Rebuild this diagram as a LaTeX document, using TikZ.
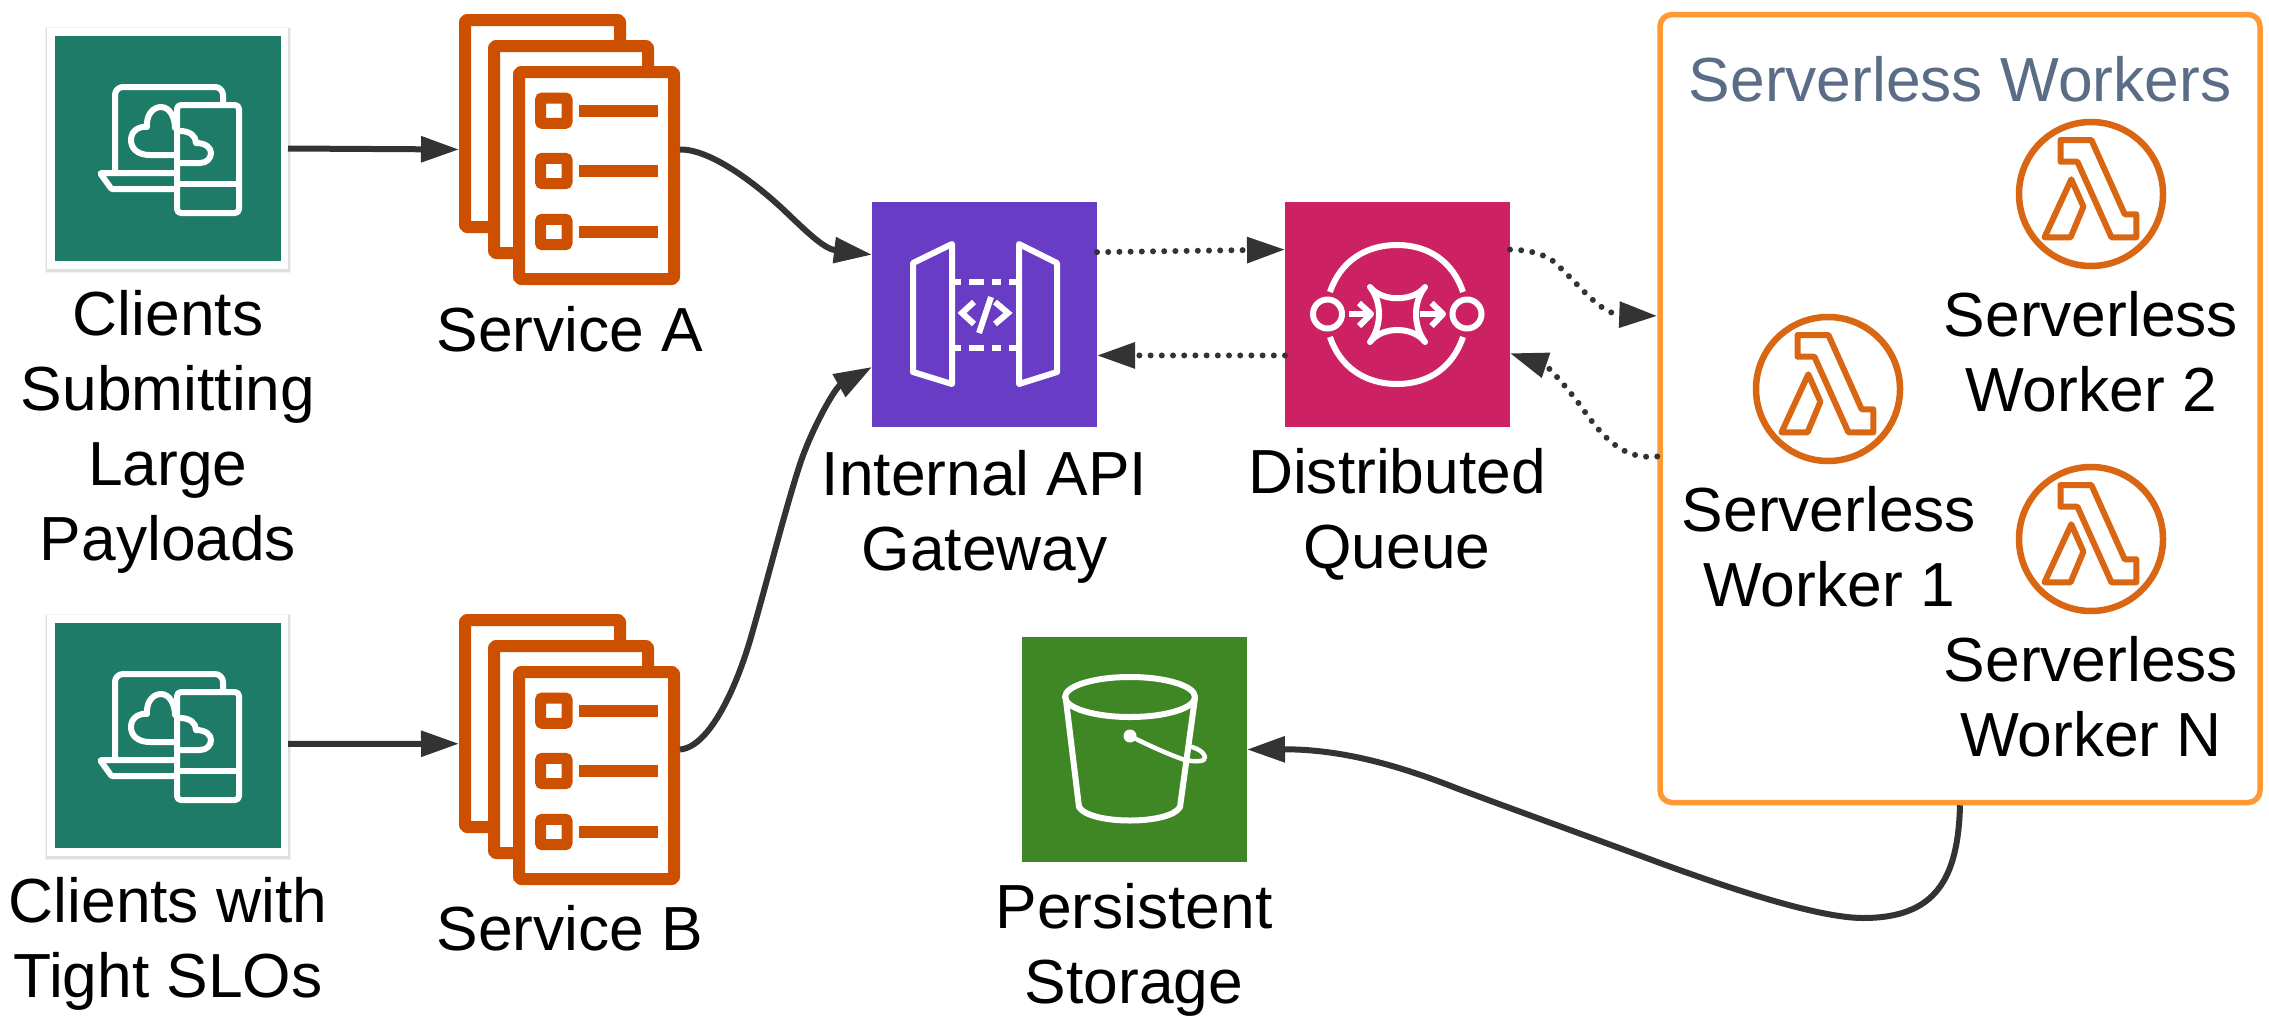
\documentclass[tikz,border=0pt]{standalone}
\usepackage{fontspec}
\setmainfont{Liberation Sans}
\usetikzlibrary{arrows.meta}
\definecolor{teal1}{HTML}{1D7B67}
\definecolor{stackor}{HTML}{CC5000}
\definecolor{lamor}{HTML}{D86613}
\definecolor{gwpurple}{HTML}{693CC5}
\definecolor{qpink}{HTML}{CC2264}
\definecolor{s3green}{HTML}{3F8624}
\definecolor{boxor}{HTML}{FF9933}
\definecolor{titleblue}{HTML}{5A6C86}
\definecolor{conn}{HTML}{333333}
\tikzset{
  x=1pt,y=-1pt,
  tile/.style={draw=none,inner sep=0pt,outer sep=0pt,minimum width=225pt,minimum height=225pt},
  phantombox/.style={draw=none,inner sep=0pt,outer sep=0pt},
  lbl/.style={inner sep=0pt,outer sep=0pt,align=center,anchor=base,font=\fontsize{62.3pt}{75pt}\selectfont},
  icon/.style={draw=white,line width=6pt,line join=round,line cap=round},
  stk/.style={draw=stackor,line width=12pt,rounded corners=2pt,fill=white,line join=round},
  lam/.style={draw=lamor,line width=6pt,line join=round},
  link/.style={draw=conn,line width=6pt,-{Triangle[length=38pt,width=25pt]}},
  dots/.style={link,line cap=round,dash pattern=on 0pt off 11.2pt},
}
\newcommand\clienticon[1]{%
\begin{scope}[shift={(0,#1)}]
  \fill[black,opacity=.05] (44.5,26.5) rectangle (290.5,273);
  \fill[black,opacity=.08] (45.5,27.5) rectangle (289.5,271.5);
  \fill[white] (47,28) rectangle (288,269);
  \fill[teal1] (55,36) rectangle (280.5,261);
  \draw[icon,rounded corners=8pt] (115,172)--(115,87)--(223,87)--(223,103);
  \draw[icon,rounded corners=1pt] (174.5,173)--(100,173)--(111.5,189)--(174.5,189);
  \draw[icon,rounded corners=4pt] (177,105) rectangle (239,213);
  \draw[icon] (177,184)--(239,184);
  \draw[icon] (175,155)--(150,155) .. controls (137,155) and (131,148) .. (131,140) .. controls (131,130) and (140,126) .. (147,127) .. controls (146,115) and (153,107) .. (161,107) .. controls (170,107) and (175,118) .. (175,128);
  \draw[icon] (180,131) .. controls (190,131) and (196,136) .. (196,143) .. controls (206,143) and (211,148) .. (211,153) .. controls (211,158) and (207,163) .. (200,163) -- (180,163);
\end{scope}}
\newcommand\stackicon[1]{%
\begin{scope}[shift={(0,#1)}]
  \draw[stk] (465,20) rectangle (620,227);
  \draw[stk] (494,46) rectangle (648,253);
  \draw[stk] (519,72) rectangle (674,279);
  \foreach \yy in {110.7,171,232}{
    \draw[draw=stackor,line width=11pt,rounded corners=2pt] (540.5,\yy-12.7) rectangle (567,\yy+12.7);
    \draw[draw=stackor,line width=11.7pt] (579,\yy)--(657.5,\yy);
  }
\end{scope}}
\newcommand\lambdaglyph[2]{%
\begin{scope}[shift={(#1,#2)}]
  \draw[lam,line width=6.5pt] (0,0) circle[radius=72pt];
  \draw[lam] (-30.5,-54)--(0.4,-54)--(33.7,20.3)--(45.3,20.3)--(45.3,43.3)--(20.4,43.3)--(-13.6,-32.3)--(-30.5,-32.3)--cycle;
  \draw[lam] (-19.7,-14.7)--(-7.6,12.7)--(-20.4,43.3)--(-46.5,43.3)--cycle;
\end{scope}}
\begin{document}
\begin{tikzpicture}
\useasboundingbox (0,0) rectangle (2269,1026);
% clients
\clienticon{0}
\clienticon{587}
\node[phantombox,minimum width=241pt,minimum height=241pt] (client1) at (167.5,148.5) {};
\node[phantombox,minimum width=241pt,minimum height=241pt] (client2) at (167.5,735.5) {};
% services
\stackicon{0}
\stackicon{600}
\node[phantombox,minimum width=221pt,minimum height=271pt] (svcA) at (569.5,149.5) {};
\node[phantombox,minimum width=221pt,minimum height=271pt] (svcB) at (569.5,749.5) {};
% gateway
\node[tile,fill=gwpurple] (gw) at (984.5,314.5) {};
\begin{scope}[icon]
  \draw (913,263)--(952,244)--(952,384)--(913,372)--cycle;
  \draw (1019,244)--(1057,263)--(1057,372)--(1019,384)--cycle;
  \draw[line cap=butt,line width=6pt,dash pattern=on 9pt off 8pt on 15pt off 8pt on 9pt off 8pt on 10pt] (952,282)--(1019,282);
  \draw[line cap=butt,line width=6pt,dash pattern=on 9pt off 8pt on 15pt off 8pt on 9pt off 8pt on 10pt] (952,348)--(1019,348);
  \draw[line join=miter,line cap=butt] (974,302)--(962,313)--(974,324);
  \draw[line join=miter,line cap=butt] (995,302)--(1008,313)--(995,324);
  \draw[line cap=butt] (991,297)--(979,333);
\end{scope}
% queue
\node[tile,fill=qpink] (queue) at (1397.5,314.5) {};
\begin{scope}[icon,line cap=butt]
  \draw (1330,292) .. controls (1340,262) and (1365,245) .. (1397,245) .. controls (1429,245) and (1453,262) .. (1463,292);
  \draw (1330,337) .. controls (1340,367) and (1365,384) .. (1397,384) .. controls (1429,384) and (1453,367) .. (1463,337);
  \draw (1327.5,314) circle[radius=14.5pt];
  \draw (1467,314) circle[radius=14.5pt];
  \draw (1349,314)--(1369,314);
  \draw (1359,303)--(1371,314)--(1359,326);
  \draw (1420,314)--(1441,314);
  \draw (1431.5,303)--(1443,314)--(1431.5,326);
  \draw[line cap=round] (1370,287) .. controls (1382,302) and (1413,302) .. (1425,287) .. controls (1413,302) and (1413,326) .. (1425,342) .. controls (1413,326) and (1382,326) .. (1370,342) .. controls (1382,326) and (1382,302) .. (1370,287) -- cycle;
\end{scope}
% storage
\node[tile,fill=s3green] (store) at (1134.5,749.5) {};
\begin{scope}[icon]
  \draw (1130,697) ellipse[x radius=65pt,y radius=20pt];
  \draw (1065.7,698)--(1079,807) .. controls (1090,825) and (1170,825) .. (1180,807)--(1195,698);
  \fill[white] (1130,736) circle[radius=6.5pt];
  \draw[line width=4.5pt] (1130,736) .. controls (1150,746) and (1170,755) .. (1185,760) .. controls (1195,762) and (1206,762) .. (1205,757) .. controls (1204,752) and (1198,749) .. (1192,747);
\end{scope}
% workers box
\node[draw=boxor,fill=white,line width=5.5pt,rounded corners=12pt,inner sep=0pt,minimum width=600pt,minimum height=788pt] (box) at (1960,408.5) {};
\lambdaglyph{2091}{194}
\lambdaglyph{1828}{389}
\lambdaglyph{2091}{539}
% labels
\node[lbl,text=titleblue] (ttl) at (1960,101.7) {Serverless Workers};
\node[lbl] (lc1) at (168,560) {Clients\\Submitting\\Large\\Payloads};
\node[lbl] (lc2) at (168,997) {Clients with\\Tight SLOs};
\node[lbl] (lsa) at (570,351) {Service A};
\node[lbl] (lsb) at (570,950) {Service B};
\node[lbl] (lgw) at (984.5,570) {Internal API\\Gateway};
\node[lbl] (lq) at (1397,568) {Distributed\\Queue};
\node[lbl] (ls) at (1134,1003) {Persistent\\Storage};
\node[lbl] (lw2) at (2091,411) {Serverless\\Worker 2};
\node[lbl] (lw1) at (1829,606) {Serverless\\Worker 1};
\node[lbl] (lwn) at (2091,756) {Serverless\\Worker N};
% connectors
\draw[link] (client1.east) -- (svcA.west);
\draw[link] (client2.-4) -- (svcB.177.15);
\draw[link] (svcA.east) .. controls (712,149) and (760,187) .. (787,213) .. controls (810,235) and (825,249) .. (gw.152);
\draw[link] (svcB.east) .. controls (710,747) and (738,685) .. (753,630) .. controls (768,578) and (785,510) .. (800,464) .. controls (812,428) and (835,388) .. (gw.205.4);
\draw[dots] (gw.29.05) -- (queue.150.95);
\draw[dots] (queue.200.25) -- (gw.-20.25);
\draw[dots] (queue.30.2) .. controls (1525,250) and (1540,252) .. (1553,261) .. controls (1580,285) and (1600,314) .. (box.163.9);
\draw[dots] (box.189.8) .. controls (1625,460) and (1605,440) .. (1585,412) .. controls (1572,393) and (1548,366) .. (queue.-19.8);
\draw[link] (box.south) .. controls (1958,880) and (1935,918) .. (1863,918) .. controls (1815,918) and (1718,884) .. (1660,863) .. controls (1590,837) and (1520,812) .. (1456,788) .. controls (1405,768) and (1345,749) .. (store.east);
\end{tikzpicture}
\end{document}
